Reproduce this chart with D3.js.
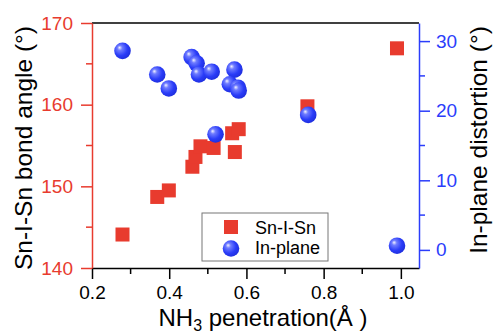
<!DOCTYPE html>
<html>
<head>
<meta charset="utf-8">
<script src="https://cdn.jsdelivr.net/npm/d3@7"></script>
<style>
body { margin: 0; background: #fff; }
text { font-family: "Liberation Sans", Arial, sans-serif; }
</style>
</head>
<body>
<div id="wrapper"></div>
<script>
// Sn-I-Sn bond angle (left axis)
var angleX = [0.279, 0.369, 0.399, 0.460, 0.468, 0.481, 0.515, 0.563, 0.580, 0.570, 0.758, 0.990];
var angleY = [144.1, 148.7, 149.5, 152.4, 153.6, 154.9, 154.7, 156.5, 157.0, 154.2, 159.8, 166.9];

// in-plane distortion (right axis)
var planeX = [0.279, 0.369, 0.399, 0.458, 0.471, 0.477, 0.510, 0.569, 0.557, 0.578, 0.580, 0.520, 0.760, 0.990];
var planeY = [28.6, 25.2, 23.2, 27.7, 26.8, 25.2, 25.6, 25.9, 23.8, 23.3, 22.9, 16.6, 19.4, 0.6];

var xTicks = [0.2, 0.4, 0.6, 0.8, 1.0];
var leftTicks = [140, 150, 160, 170];
var rightTicks = [0, 10, 20, 30];

var red = "#e83b2e";
var blue = "#2b3dfb";

var w = 494, h = 334;
var m = {left: 92, right: 75, top: 23, bottom: 66};

var svg = d3.select("#wrapper").append("svg")
    .attr("width", w).attr("height", h);

var defs = svg.append("defs");
var grad = defs.append("radialGradient").attr("id", "ball")
    .attr("cx", "0.4").attr("cy", "0.4").attr("r", "0.6")
    .attr("fx", "0.32").attr("fy", "0.3");
grad.append("stop").attr("offset", "0").attr("stop-color", "#f2f2ff");
grad.append("stop").attr("offset", "0.25").attr("stop-color", "#6f7cff");
grad.append("stop").attr("offset", "0.7").attr("stop-color", "#2a3cf8");
grad.append("stop").attr("offset", "1").attr("stop-color", "#2030e0");

var x = d3.scaleLinear().domain([0.2, 1.047]).range([m.left, w - m.right]);
var yL = d3.scaleLinear().domain([140, 170]).range([h - m.bottom, m.top]);
var yR = d3.scaleLinear().domain([-2.6, 32.6]).range([h - m.bottom, m.top]);

// top border
svg.append("line")
    .attr("x1", m.left).attr("x2", w - m.right)
    .attr("y1", m.top).attr("y2", m.top)
    .attr("stroke", "#000").attr("stroke-width", 1.5);

// minor ticks
function minor(g, scale, vals, dir, color) {
    g.selectAll("line.minor").data(vals).enter().append("line")
        .attr("stroke", color).attr("stroke-width", 1.5)
        .each(function(d) {
            var s = d3.select(this);
            if (dir == "bottom") s.attr("x1", scale(d)).attr("x2", scale(d)).attr("y1", 0).attr("y2", 6);
            if (dir == "left") s.attr("y1", scale(d)).attr("y2", scale(d)).attr("x1", 0).attr("x2", -6);
            if (dir == "right") s.attr("y1", scale(d)).attr("y2", scale(d)).attr("x1", 0).attr("x2", 6);
        });
}

function style(g, color) {
    g.select(".domain").attr("stroke", color).attr("stroke-width", 1.5);
    g.selectAll(".tick line").attr("stroke", color).attr("stroke-width", 1.5);
    g.selectAll(".tick text").attr("fill", color).style("font-size", "19px");
}

var gx = svg.append("g").attr("transform", "translate(0," + (h - m.bottom) + ")")
    .call(d3.axisBottom(x).tickValues(xTicks).tickFormat(d3.format(".1f")).tickSizeInner(11).tickSizeOuter(0).tickPadding(7));
style(gx, "#000");
minor(gx, x, [0.3, 0.5, 0.7, 0.9], "bottom", "#000");

var gl = svg.append("g").attr("transform", "translate(" + m.left + ",0)")
    .call(d3.axisLeft(yL).tickValues(leftTicks).tickSizeInner(11).tickSizeOuter(0).tickPadding(8));
style(gl, red);
minor(gl, yL, [145, 155, 165], "left", red);

var gr = svg.append("g").attr("transform", "translate(" + (w - m.right) + ",0)")
    .call(d3.axisRight(yR).tickValues(rightTicks).tickSizeInner(11).tickSizeOuter(0).tickPadding(6));
style(gr, blue);
minor(gr, yR, [5, 15, 25], "right", blue);

// points
var sq = 14;
svg.append("g").selectAll("rect").data(angleX).enter().append("rect")
    .attr("x", function(d) { return x(d) - sq / 2; })
    .attr("y", function(d, i) { return yL(angleY[i]) - sq / 2; })
    .attr("width", sq).attr("height", sq)
    .attr("fill", red);

svg.append("g").selectAll("circle").data(planeX).enter().append("circle")
    .attr("cx", function(d) { return x(d); })
    .attr("cy", function(d, i) { return yR(planeY[i]); })
    .attr("r", 8.3)
    .attr("fill", "url(#ball)");

// legend
var lg = svg.append("g");
lg.append("rect").attr("x", 202).attr("y", 213).attr("width", 126).attr("height", 48)
    .attr("fill", "#fff").attr("stroke", "#777").attr("stroke-width", 1);
lg.append("rect").attr("x", 224).attr("y", 220).attr("width", sq).attr("height", sq).attr("fill", red);
lg.append("circle").attr("cx", 231).attr("cy", 248.5).attr("r", 8.3).attr("fill", "url(#ball)");
lg.append("text").attr("x", 255).attr("y", 234).style("font-size", "18px").text("Sn-I-Sn");
lg.append("text").attr("x", 255).attr("y", 254).style("font-size", "18px").text("In-plane");

// axis titles
svg.append("text")
    .attr("transform", "translate(32,148) rotate(-90)")
    .attr("text-anchor", "middle").style("font-size", "24.5px")
    .text("Sn-I-Sn bond angle (°)");

svg.append("text")
    .attr("transform", "translate(487,140) rotate(-90)")
    .attr("text-anchor", "middle").style("font-size", "24.5px")
    .text("In-plane distortion (°)");

var xt = svg.append("text")
    .attr("x", 263).attr("y", 326)
    .attr("text-anchor", "middle").style("font-size", "24px");
xt.append("tspan").text("NH");
xt.append("tspan").attr("dy", 5).style("font-size", "16px").text("3");
xt.append("tspan").attr("dy", -5).text(" penetration(Å )");
</script>
</body>
</html>
